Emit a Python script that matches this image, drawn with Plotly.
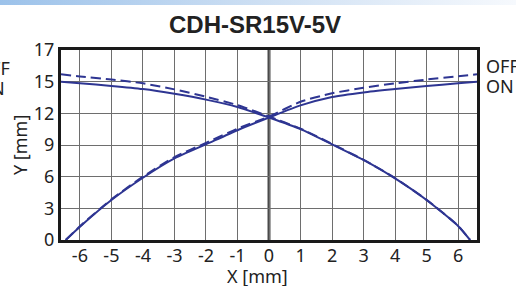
import base64
import plotly.graph_objects as go

# ---- data ----
on_rise_x = [-6.45, -6, -5, -4, -3, -2, -1, 0, 1, 2, 3, 4, 5, 6, 6.6]
on_rise_y = [0, 1.26, 3.79, 5.9, 7.73, 9.06, 10.4, 11.6, 12.75, 13.55, 13.98, 14.3, 14.6, 14.84, 15.0]
on_fall_x = [-6.6, -6, -5, -4, -3, -2, -1, 0, 1, 2, 3, 4, 5, 6, 6.38]
on_fall_y = [15.0, 14.85, 14.6, 14.3, 13.85, 13.3, 12.6, 11.6, 10.5, 9.06, 7.58, 5.84, 3.79, 1.33, 0]
off_rise_x = [-6.45, -6, -5, -4, -3, -2, -1, 0, 1, 2, 3, 4, 5, 6, 6.6]
off_rise_y = [0, 1.3, 3.85, 6.0, 7.85, 9.2, 10.55, 11.7, 13.1, 13.9, 14.42, 14.84, 15.2, 15.5, 15.7]
off_fall_x = [-6.6, -6, -5, -4, -3, -2, -1, 0, 1, 2, 3, 4, 5, 6, 6.38]
off_fall_y = [15.7, 15.5, 15.2, 14.84, 14.27, 13.57, 12.78, 11.7, 10.55, 9.1, 7.6, 5.86, 3.8, 1.35, 0]

x_ticks = [-6, -5, -4, -3, -2, -1, 0, 1, 2, 3, 4, 5, 6]
x_tick_text = ["-6", "-5", "-4", "-3", "-2", "-1", "0", "1", "2", "3", "4", "5", "6"]
y_ticks = [0, 3, 6, 9, 12, 15, 18]
y_tick_text = ["0", "3", "6", "9", "12", "15", "17"]

title = "CDH-SR15V-5V"
x_title = "X [mm]"
y_title = "Y [mm]"

# ---- layout geometry (pixels) ----
W, H = 516, 286
L, R, T, B = 61, 39, 50, 46
pw, ph = W - L - R, H - T - B
def px(x):
    return (x - L) / pw
def py(y):
    return (H - B - y) / ph

line_col = "#2e3592"
fig = go.Figure()
for xs, ys, dash in [(on_rise_x, on_rise_y, "solid"), (on_fall_x, on_fall_y, "solid"),
                     (off_rise_x, off_rise_y, "10px,5px"), (off_fall_x, off_fall_y, "10px,5px")]:
    fig.add_trace(go.Scatter(x=xs, y=ys, mode="lines",
                             line=dict(color=line_col, width=2, dash=dash, shape="spline", smoothing=0.6),
                             showlegend=False, hoverinfo="skip"))

# x=0 thick line
fig.add_shape(type="line", xref="x", yref="paper", x0=0, x1=0, y0=0, y1=1,
              line=dict(color="#4a4a4a", width=3), layer="below")

# top gradient bar (svg image)
svg = ('<svg xmlns="http://www.w3.org/2000/svg" width="516" height="5" preserveAspectRatio="none">'
       '<defs><linearGradient id="g" x1="0" x2="1" y1="0" y2="0">'
       '<stop offset="0" stop-color="#9cc2ea"/><stop offset="0.5" stop-color="#cddff3"/>'
       '<stop offset="1" stop-color="#f6f9fd"/></linearGradient></defs>'
       '<rect width="516" height="5" fill="url(#g)"/></svg>')
src = "data:image/svg+xml;base64," + base64.b64encode(svg.encode()).decode()
fig.add_layout_image(source=src, xref="paper", yref="paper", x=px(0), y=py(0),
                     sizex=W / pw, sizey=5 / ph, sizing="stretch",
                     xanchor="left", yanchor="top", layer="above")

font = "Noto Sans"
txt_col = "#222222"
fig.add_annotation(text="<b>" + title + "</b>", xref="paper", yref="paper", x=px(255), y=py(24),
                   showarrow=False, font=dict(family="Liberation Sans", size=24, color="#222222"),
                   xanchor="center", yanchor="middle")
fig.add_annotation(text=x_title, xref="paper", yref="paper", x=px(257), y=py(276),
                   showarrow=False, font=dict(family=font, size=18, color=txt_col),
                   xanchor="center", yanchor="middle")
fig.add_annotation(text=y_title, xref="paper", yref="paper", x=px(20), y=py(145),
                   showarrow=False, font=dict(family=font, size=18, color=txt_col),
                   xanchor="center", yanchor="middle", textangle=-90)
for xpos, ypos, lab in [(484, 65.5, "OFF"), (484, 85.5, "ON"), (-25, 67.5, "OFF"), (-25, 87.5, "ON")]:
    fig.add_annotation(text=lab, xref="paper", yref="paper", x=px(xpos), y=py(ypos),
                       showarrow=False, font=dict(family=font, size=18, color=txt_col),
                       xanchor="left", yanchor="middle")

fig.update_layout(
    width=W, height=H, margin=dict(l=L, r=R, t=T, b=B),
    paper_bgcolor="white", plot_bgcolor="white",
    xaxis=dict(range=[-6.6, 6.6], tickvals=x_ticks, ticktext=x_tick_text,
               showgrid=True, gridcolor="#6e6e6e", gridwidth=1.4, zeroline=False,
               showline=True, linecolor="#1a1a1a", linewidth=3, mirror=True,
               ticks="", ticklabelstandoff=-3, tickfont=dict(family=font, size=18, color=txt_col)),
    yaxis=dict(range=[0, 18], tickvals=y_ticks, ticktext=y_tick_text,
               showgrid=True, gridcolor="#6e6e6e", gridwidth=1.4, zeroline=False,
               showline=True, linecolor="#1a1a1a", linewidth=3, mirror=True,
               ticks="", tickfont=dict(family=font, size=18, color=txt_col)),
)
fig.write_html("out.html", config={"displayModeBar": False},
               post_script="document.body.style.margin='0';document.body.style.overflow='hidden';")
